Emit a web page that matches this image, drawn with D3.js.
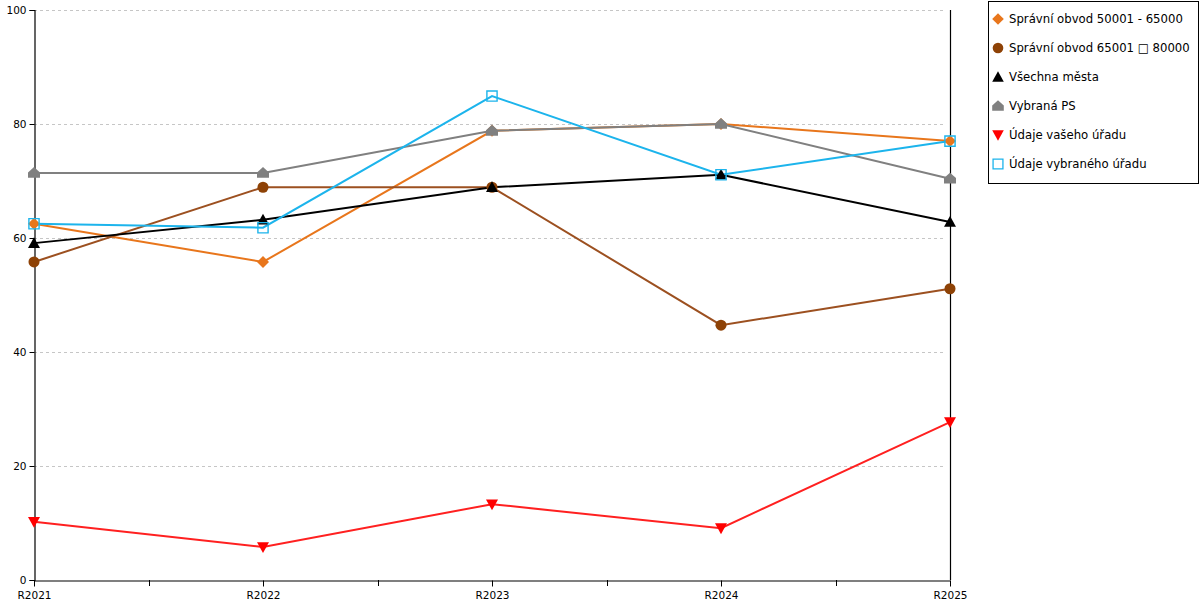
<!DOCTYPE html>
<html>
<head>
<meta charset="utf-8">
<script src="https://cdn.jsdelivr.net/npm/d3@7"></script>
<style>
  body { margin: 0; background: #fff; }
  svg { display: block; font-family: "DejaVu Sans", Verdana, sans-serif; }
</style>
</head>
<body>
<svg id="chart" width="1200" height="600"></svg>
<script>
// data
const years = ["R2021", "R2022", "R2023", "R2024", "R2025"];
const yTicks = [0, 20, 40, 60, 80, 100];

const obvod50 = [62.5, 55.8, 78.8, 80.0, 77.0];
const obvod65 = [55.8, 68.9, 68.9, 44.7, 51.1];
const vsechnaMesta = [59.1, 63.2, 68.9, 71.1, 62.8];
const vybranaPS = [71.4, 71.4, 78.8, 80.0, 70.4];
const vasUrad = [10.2, 5.8, 13.3, 9.1, 27.7];
const vybranyUrad = [62.5, 61.8, 84.9, 71.1, 77.0];

const seriesNames = [
  "Správní obvod 50001 - 65000",
  "Správní obvod 65001 \u25A1 80000",
  "Všechna města",
  "Vybraná PS",
  "Údaje vašeho úřadu",
  "Údaje vybraného úřadu"
];

const series = [
  {name: seriesNames[0], values: obvod50, color: "#e8761c", shape: "diamond"},
  {name: seriesNames[1], values: obvod65, color: "#8e4206", line: "#9c5020", shape: "circle"},
  {name: seriesNames[2], values: vsechnaMesta, color: "#000000", shape: "triangle"},
  {name: seriesNames[3], values: vybranaPS, color: "#808080", shape: "house"},
  {name: seriesNames[4], values: vasUrad, color: "#ff0000", line: "#ff2020", shape: "down"},
  {name: seriesNames[5], values: vybranyUrad, color: "#1cb4ec", shape: "square"}
];

const svg = d3.select("#chart");
const plotLeft = 34, plotRight = 950, plotTop = 10, plotBottom = 580;

const x = d3.scalePoint().domain(years).range([plotLeft, plotRight]).padding(0);
const y = d3.scaleLinear().domain([0, 100]).range([plotBottom, plotTop]);

// marker shapes
function markerPath(shape, r) {
  const p = d3.path();
  if (shape == "diamond") {
    p.moveTo(0, -r); p.lineTo(r, 0); p.lineTo(0, r); p.lineTo(-r, 0); p.closePath();
  } else if (shape == "circle") {
    p.arc(0, 0, r * 0.92, 0, 2 * Math.PI);
  } else if (shape == "triangle") {
    p.moveTo(0, -r); p.lineTo(r, r * 0.8); p.lineTo(-r, r * 0.8); p.closePath();
  } else if (shape == "down") {
    p.moveTo(0, r); p.lineTo(r, -r * 0.8); p.lineTo(-r, -r * 0.8); p.closePath();
  } else if (shape == "house") {
    p.moveTo(0, -r); p.lineTo(r, -r * 0.1); p.lineTo(r, r * 0.8);
    p.lineTo(-r, r * 0.8); p.lineTo(-r, -r * 0.1); p.closePath();
  } else {
    p.rect(-r * 0.85, -r * 0.85, r * 1.7, r * 1.7);
  }
  return p.toString();
}

// grid lines
svg.append("g")
  .selectAll("line")
  .data(yTicks.filter(d => d > 0))
  .join("line")
  .attr("x1", plotLeft)
  .attr("x2", plotRight - 4)
  .attr("y1", d => y(d) + 0.5)
  .attr("y2", d => y(d) + 0.5)
  .attr("stroke", "#c6c6c6")
  .attr("stroke-dasharray", "3,3");

// y axis
const yAxis = svg.append("g")
  .attr("transform", `translate(${plotLeft + 0.5},0)`)
  .call(d3.axisLeft(y).tickValues(yTicks).tickSize(5).tickPadding(3));
yAxis.select(".domain").attr("stroke", "#000").attr("stroke-width", 1.2);
yAxis.selectAll("text").attr("font-size", 10.5).attr("fill", "#000")
  .attr("font-family", "DejaVu Sans, sans-serif");

// right border line
svg.append("line")
  .attr("x1", plotRight + 0.5).attr("x2", plotRight + 0.5)
  .attr("y1", plotTop).attr("y2", plotBottom)
  .attr("stroke", "#000").attr("stroke-width", 1.2);

// x axis
const xAxis = svg.append("g")
  .attr("transform", `translate(0,${plotBottom + 0.5})`)
  .call(d3.axisBottom(x).tickSize(6).tickPadding(5).tickSizeOuter(0));
xAxis.select(".domain").attr("stroke", "#000").attr("stroke-width", 1.2);
xAxis.selectAll("text").attr("font-size", 10.5).attr("fill", "#000")
  .attr("font-family", "DejaVu Sans, sans-serif");

// minor ticks between categories
const mids = years.slice(1).map((d, i) => (x(years[i]) + x(d)) / 2);
svg.append("g")
  .selectAll("line")
  .data(mids)
  .join("line")
  .attr("x1", d => Math.round(d) + 0.5)
  .attr("x2", d => Math.round(d) + 0.5)
  .attr("y1", plotBottom)
  .attr("y2", plotBottom + 6)
  .attr("stroke", "#000");

// lines
const line = d3.line()
  .x((d, i) => x(years[i]))
  .y(d => y(d));

series.forEach(s => {
  svg.append("path")
    .datum(s.values)
    .attr("fill", "none")
    .attr("stroke", s.line || s.color)
    .attr("stroke-width", 2)
    .attr("d", line);
});

// markers
series.forEach(s => {
  svg.append("g")
    .selectAll("path")
    .data(s.values)
    .join("path")
    .attr("transform", (d, i) => `translate(${x(years[i])},${y(d)})`)
    .attr("d", markerPath(s.shape, 6))
    .attr("fill", s.shape == "square" ? "none" : s.color)
    .attr("stroke", s.shape == "square" ? s.color : "none")
    .attr("stroke-width", 1.4);
});

// legend
const legend = svg.append("g");
legend.append("rect")
  .attr("x", 988.5).attr("y", 1.5)
  .attr("width", 210).attr("height", 182)
  .attr("fill", "#fff").attr("stroke", "#000");

const rows = legend.selectAll("g.item")
  .data(series)
  .join("g")
  .attr("class", "item")
  .attr("transform", (d, i) => `translate(998,${19 + i * 29})`);

rows.append("path")
  .attr("d", d => markerPath(d.shape, 5.8))
  .attr("fill", d => d.shape == "square" ? "none" : d.color)
  .attr("stroke", d => d.shape == "square" ? d.color : "none")
  .attr("stroke-width", 1.3);

rows.append("text")
  .attr("x", 11)
  .attr("dy", "0.35em")
  .attr("font-size", 11.7)
  .attr("fill", "#000")
  .text(d => d.name);
</script>
</body>
</html>
